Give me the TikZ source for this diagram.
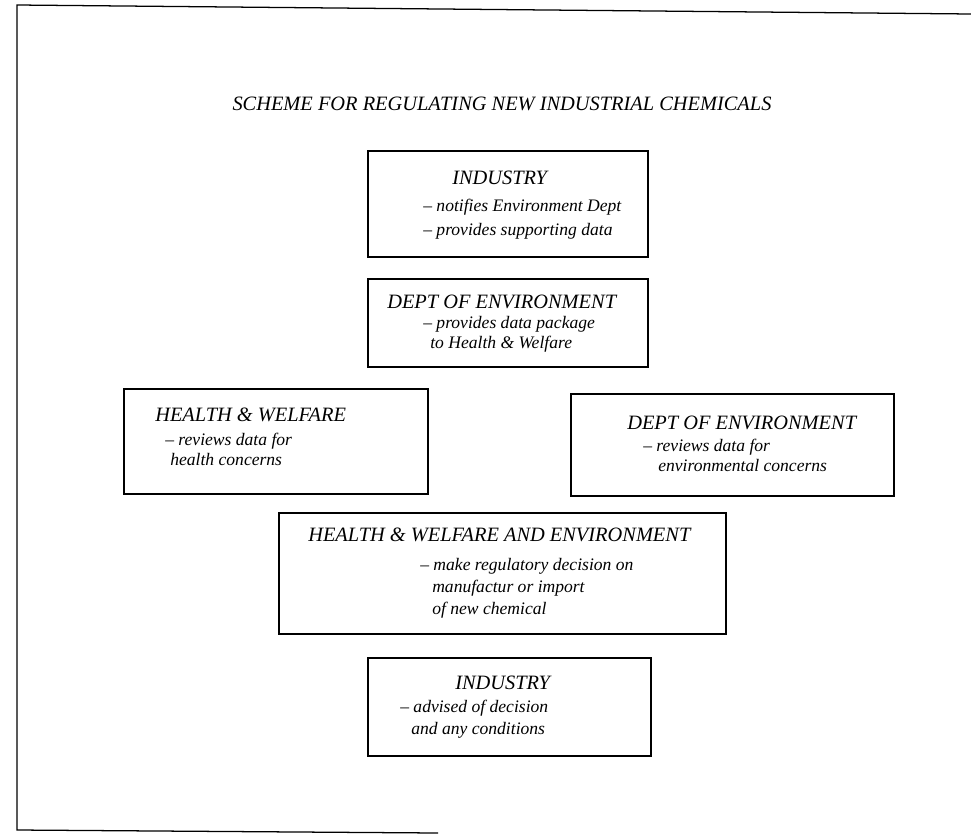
\documentclass[tikz,border=0pt]{standalone}
\usepackage{fontspec}
\setmainfont{Liberation Serif}

\begin{document}
\begin{tikzpicture}[
		x=0.025cm, y=-0.025cm, % one unit = one pixel of the scan, y downwards
		box/.style={draw, line width=1.6pt, anchor=north west, inner sep=0pt},
		head/.style={anchor=base west, inner sep=0pt, font=\itshape\fontsize{14.5}{17}\selectfont},
		txt/.style={anchor=base west, inner sep=0pt, font=\itshape\fontsize{12.5}{15}\selectfont}
		]
		
		\useasboundingbox (0,0) rectangle (971,835);
		
		% --- 1. Page frame (open on the right) ---
		\draw[line width=0.9pt] (971,14) -- (17,5) -- (17,830) -- (438,833);
		
		% --- 2. Title ---
		\node[head, anchor=base] (title) at (502,110) {SCHEME FOR REGULATING NEW INDUSTRIAL CHEMICALS};
		
		% --- 3. Industry notifies ---
		\node[box, minimum width=7cm, minimum height=2.65cm] (ind1) at (367,150) {};
		\node[head] (ind1-h) at (452,184) {INDUSTRY};
		\node[txt] (ind1-a) at (423,211) {– notifies Environment Dept};
		\node[txt] (ind1-b) at (423,235) {– provides supporting data};
		
		% --- 4. Dept of Environment passes data on ---
		\node[box, minimum width=7cm, minimum height=2.2cm] (env1) at (367,278) {};
		\node[head] (env1-h) at (387,308) {DEPT OF ENVIRONMENT};
		\node[txt] (env1-a) at (423,328) {– provides data package};
		\node[txt] (env1-b) at (430,348) {to Health \& Welfare};
		
		% --- 5. The two reviews ---
		\node[box, minimum width=7.6cm, minimum height=2.625cm] (hw) at (123,388) {};
		\node[head] (hw-h) at (155,421) {HEALTH \& WELFARE};
		\node[txt] (hw-a) at (165,445) {– reviews data for};
		\node[txt] (hw-b) at (170,465) {health concerns};
		
		\node[box, minimum width=8.075cm, minimum height=2.55cm] (env2) at (570,393) {};
		\node[head] (env2-h) at (627,429) {DEPT OF ENVIRONMENT};
		\node[txt] (env2-a) at (643,451) {– reviews data for};
		\node[txt] (env2-b) at (658,471) {environmental concerns};
		
		% --- 6. Joint decision ---
		\node[box, minimum width=11.175cm, minimum height=3.025cm] (joint) at (278,512) {};
		\node[head] (joint-h) at (308,541) {HEALTH \& WELFARE AND ENVIRONMENT};
		\node[txt] (joint-a) at (420,570) {– make regulatory decision on};
		\node[txt] (joint-b) at (432,592) {manufactur or import};
		\node[txt] (joint-c) at (432,614) {of new chemical};
		
		% --- 7. Industry advised ---
		\node[box, minimum width=7.075cm, minimum height=2.45cm] (ind2) at (367,657) {};
		\node[head] (ind2-h) at (455,689) {INDUSTRY};
		\node[txt] (ind2-a) at (400,712) {– advised of decision};
		\node[txt] (ind2-b) at (411,734) {and any conditions};
		
	\end{tikzpicture}
\end{document}
